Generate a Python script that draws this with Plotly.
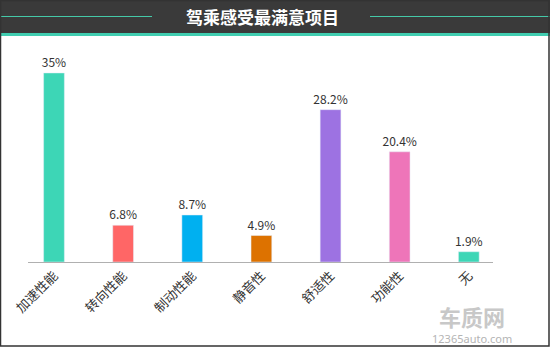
import plotly.graph_objects as go

categories = ["加速性能", "转向性能", "制动性能", "静音性", "舒适性", "功能性", "无"]
values = [35, 6.8, 8.7, 4.9, 28.2, 20.4, 1.9]
labels = ["35%", "6.8%", "8.7%", "4.9%", "28.2%", "20.4%", "1.9%"]
colors = ["#3dd6b6", "#ff6666", "#00b0f0", "#dd7200", "#9d72e2", "#ee75b9", "#3dd6b6"]

W, H = 550, 347
def px_x(x): return x / W
def px_y(y): return 1 - y / H

fig = go.Figure()
fig.add_trace(go.Bar(
    x=categories, y=values, marker_color=colors, width=0.3,
    text=labels, textposition="outside", cliponaxis=False,
    constraintext="none", textangle=0,
    textfont=dict(size=12, color="#333333", family="Noto Sans CJK SC"),
    hoverinfo="skip",
))

shapes = [
    dict(type="rect", xref="paper", yref="paper", x0=0, x1=1, y0=px_y(33), y1=1,
         fillcolor="#3a3a3a", line_width=0, layer="below"),
    dict(type="rect", xref="paper", yref="paper", x0=0, x1=1, y0=px_y(36), y1=px_y(33),
         fillcolor="#40cdb0", line_width=0),
    dict(type="line", xref="paper", yref="paper", x0=0, x1=px_x(152), y0=px_y(16.5), y1=px_y(16.5),
         line=dict(color="#45c9a8", width=1.2)),
    dict(type="line", xref="paper", yref="paper", x0=px_x(370), x1=1, y0=px_y(16.5), y1=px_y(16.5),
         line=dict(color="#45c9a8", width=1.2)),
    dict(type="rect", xref="paper", yref="paper", x0=px_x(0.5), x1=px_x(549), y0=px_y(346), y1=px_y(0.5),
         fillcolor="rgba(0,0,0,0)", line=dict(color="#333333", width=1.5)),
]

annotations = [
    dict(text="<b>驾乘感受最满意项目</b>", xref="paper", yref="paper", x=px_x(262), y=px_y(16.5),
         showarrow=False, font=dict(size=17, color="white", family="Noto Sans CJK SC"),
         xanchor="center", yanchor="middle"),
    dict(text="<b>车质网</b>", xref="paper", yref="paper", x=px_x(472), y=px_y(316),
         showarrow=False, font=dict(size=22, color="#c8c8c8", family="Noto Sans CJK SC"),
         xanchor="center", yanchor="middle"),
    dict(text="12365auto.com", xref="paper", yref="paper", x=px_x(472), y=px_y(338),
         showarrow=False, font=dict(size=11, color="#b4b4b4", family="Noto Sans"),
         xanchor="center", yanchor="middle"),
]

fig.update_layout(
    width=W, height=H, autosize=False,
    margin=dict(l=0, r=0, t=0, b=0),
    paper_bgcolor="white", plot_bgcolor="white",
    showlegend=False, bargap=0.7,
    shapes=shapes, annotations=annotations,
    xaxis=dict(domain=[px_x(28), px_x(493)], range=[-0.376, 6.35], showgrid=False,
               showline=True, linecolor="#b0b0b0", linewidth=1, ticks="",
               tickangle=-45, automargin=False,
               tickfont=dict(size=13, color="#333333", family="Noto Sans CJK SC")),
    yaxis=dict(domain=[px_y(262), px_y(40)], range=[0, 41.1], visible=False, automargin=False),
)

fig.write_html("out.html")
